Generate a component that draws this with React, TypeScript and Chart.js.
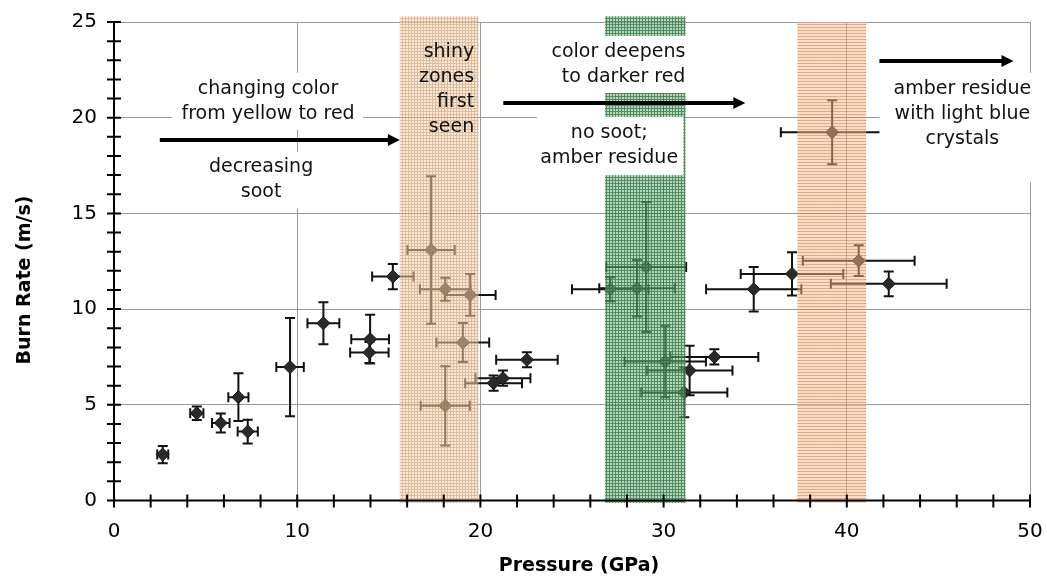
import React, { useEffect, useRef } from 'react';
import { Chart, registerables } from 'chart.js';

Chart.register(...registerables);

// ---- data ----
const pressure = [2.66, 4.52, 5.83, 6.79, 7.3, 9.61, 11.43, 13.98, 13.94, 15.22, 17.31, 18.08, 19.44, 19.04, 18.08, 22.54, 21.23, 20.72, 27.09, 28.55, 29.05, 30.09, 31.13, 31.42, 32.77, 34.92, 37.01, 40.65, 42.29, 39.2];
const burnRate = [2.4, 4.56, 4.05, 5.4, 3.6, 6.97, 9.26, 8.43, 7.73, 11.7, 13.09, 11.04, 10.74, 8.25, 4.95, 7.35, 6.39, 6.13, 11.04, 11.09, 12.2, 7.26, 5.64, 6.79, 7.5, 11.04, 11.84, 12.53, 11.32, 19.24];
const pressureErr = [0.3, 0.36, 0.48, 0.55, 0.55, 0.75, 0.87, 1.03, 1.05, 1.13, 1.29, 1.38, 1.39, 1.44, 1.34, 1.68, 1.5, 1.55, 2.09, 2.06, 2.18, 2.22, 2.35, 2.34, 2.4, 2.6, 2.8, 3.05, 3.16, 2.8];
const burnRateErr = [0.45, 0.35, 0.5, 1.25, 0.62, 2.57, 1.1, 1.27, 0.55, 0.66, 3.85, 0.6, 1.09, 1.02, 2.07, 0.39, 0.4, 0.4, 0.63, 1.48, 3.4, 1.87, 1.29, 1.29, 0.4, 1.16, 1.13, 0.8, 0.65, 1.67];

// shaded pressure zones [from, to]
const zoneStart = [15.6, 26.8, 37.3];
const zoneEnd = [19.9, 31.2, 41.05];

const xTitle = 'Pressure (GPa)';
const yTitle = 'Burn Rate (m/s)';

const FONT = 'DejaVu Sans';

function makePattern(ctx: CanvasRenderingContext2D, cell: string, line: string, horizOnly: boolean) {
  const c = document.createElement('canvas');
  c.width = 3;
  c.height = 3;
  const g = c.getContext('2d')!;
  g.fillStyle = cell;
  g.fillRect(0, 0, 3, 3);
  g.fillStyle = line;
  g.fillRect(0, 0, 3, 1);
  if (!horizOnly) g.fillRect(0, 1, 1, 2);
  return ctx.createPattern(c, 'repeat')!;
}

function arrow(ctx: CanvasRenderingContext2D, x0: number, x1: number, yy: number) {
  ctx.save();
  ctx.strokeStyle = '#000';
  ctx.fillStyle = '#000';
  ctx.lineWidth = 4;
  ctx.beginPath();
  ctx.moveTo(x0, yy);
  ctx.lineTo(x1 - 8, yy);
  ctx.stroke();
  ctx.beginPath();
  ctx.moveTo(x1, yy);
  ctx.lineTo(x1 - 12, yy - 6);
  ctx.lineTo(x1 - 12, yy + 6);
  ctx.closePath();
  ctx.fill();
  ctx.restore();
}

const decor = {
  id: 'decor',
  beforeDatasetsDraw(chart: any) {
    const { ctx, scales } = chart;
    const x = scales.x;
    const y = scales.y;
    ctx.save();
    ctx.strokeStyle = '#111';
    ctx.lineWidth = 2;
    const cap = 5;
    for (let i = 0; i < pressure.length; i++) {
      const px = x.getPixelForValue(pressure[i]);
      const py = y.getPixelForValue(burnRate[i]);
      const xl = x.getPixelForValue(pressure[i] - pressureErr[i]);
      const xr = x.getPixelForValue(pressure[i] + pressureErr[i]);
      const yt = y.getPixelForValue(burnRate[i] + burnRateErr[i]);
      const yb = y.getPixelForValue(burnRate[i] - burnRateErr[i]);
      ctx.beginPath();
      ctx.moveTo(xl, py); ctx.lineTo(xr, py);
      ctx.moveTo(xl, py - cap); ctx.lineTo(xl, py + cap);
      ctx.moveTo(xr, py - cap); ctx.lineTo(xr, py + cap);
      ctx.moveTo(px, yt); ctx.lineTo(px, yb);
      ctx.moveTo(px - cap, yt); ctx.lineTo(px + cap, yt);
      ctx.moveTo(px - cap, yb); ctx.lineTo(px + cap, yb);
      ctx.stroke();
    }
    ctx.restore();
  },
  afterDatasetsDraw(chart: any) {
    const { ctx, scales } = chart;
    const x = scales.x;
    const y = scales.y;
    const X = (v: number) => x.getPixelForValue(v);
    const Y = (v: number) => y.getPixelForValue(v);

    // shaded zones
    const pats = [
      makePattern(ctx, 'rgba(250,212,175,0.55)', 'rgba(160,115,75,0.38)', false),
      makePattern(ctx, 'rgba(130,188,138,0.6)', 'rgba(30,100,50,0.65)', false),
      makePattern(ctx, 'rgba(246,185,140,0.5)', 'rgba(175,105,55,0.42)', true),
    ];
    const tops = [25.3, 25.3, 25];
    ctx.save();
    for (let i = 0; i < zoneStart.length; i++) {
      const l = X(zoneStart[i]);
      const r = X(zoneEnd[i]);
      const t = Y(tops[i]);
      const b = Y(-0.13);
      ctx.fillStyle = pats[i];
      ctx.fillRect(l, t, r - l, b - t);
    }
    ctx.restore();

    // axes lines and crossing tick marks
    const x0 = X(0), x50 = X(50), y0 = Y(0), y25 = Y(25);
    ctx.save();
    ctx.strokeStyle = '#000';
    ctx.lineWidth = 2;
    ctx.beginPath();
    ctx.moveTo(x0, y25 - 1); ctx.lineTo(x0, y0);
    ctx.moveTo(x0, y0); ctx.lineTo(x50 + 1, y0);
    for (let v = 0; v <= 25; v += 1) {
      const p = Y(v);
      ctx.moveTo(x0 - 7, p); ctx.lineTo(x0 + 7, p);
    }
    for (let v = 0; v <= 50; v += 2) {
      const p = X(v);
      ctx.moveTo(p, y0 - 6); ctx.lineTo(p, y0 + 7);
    }
    ctx.stroke();
    ctx.restore();

    // white label boxes
    const boxes = [
      [3.17, 13.6, 22.34, 19.36],
      [5.6, 10.5, 18.2, 15.27],
      [23.5, 31.3, 24.27, 21.29],
      [23.1, 31.08, 20.04, 17.0],
      [41.78, 50.9, 22.34, 16.64],
    ];
    ctx.save();
    ctx.fillStyle = '#fff';
    for (const [a, b, c, d] of boxes) {
      ctx.fillRect(X(a), Y(c), X(b) - X(a), Y(d) - Y(c));
    }
    ctx.restore();

    // arrows
    arrow(ctx, X(2.5), X(15.6), Y(18.83));
    arrow(ctx, X(21.25), X(34.46), Y(20.77));
    arrow(ctx, X(41.78), X(49.1), Y(22.96));

    // annotation text
    ctx.save();
    ctx.fillStyle = '#111';
    ctx.font = `19px "${FONT}"`;
    ctx.textBaseline = 'middle';
    const lh = 25;
    const block = (lines: string[], ax: number, ay: number, align: CanvasTextAlign) => {
      ctx.textAlign = align;
      lines.forEach((s, k) => ctx.fillText(s, X(ax), Y(ay) + k * lh));
    };
    block(['changing color', 'from yellow to red'], 8.41, 21.5, 'center');
    block(['decreasing', 'soot'], 8.03, 17.42, 'center');
    block(['shiny', 'zones', 'first', 'seen'], 19.66, 23.43, 'right');
    block(['color deepens', 'to darker red'], 31.19, 23.43, 'right');
    block(['no soot;', 'amber residue'], 27.03, 19.2, 'center');
    block(['amber residue', 'with light blue', 'crystals'], 46.31, 21.5, 'center');
    ctx.restore();

    // axis titles
    ctx.save();
    ctx.fillStyle = '#000';
    ctx.font = `bold 19px "${FONT}"`;
    ctx.textAlign = 'center';
    ctx.textBaseline = 'middle';
    ctx.fillText(xTitle, 579, 566);
    ctx.translate(25, 280);
    ctx.rotate(-Math.PI / 2);
    ctx.fillText(yTitle, 0, 0);
    ctx.restore();
  },
};

export default function App() {
  const ref = useRef<HTMLCanvasElement>(null);
  useEffect(() => {
    const canvas = ref.current!;
    const chart = new Chart(canvas, {
      type: 'scatter',
      data: {
        datasets: [
          {
            data: pressure.map((p, i) => ({ x: p, y: burnRate[i] })),
            pointStyle: 'rectRot',
            pointRadius: 6.5,
            backgroundColor: '#2a2a2a',
            borderColor: '#151515',
            borderWidth: 1,
          },
        ],
      },
      options: {
        animation: false,
        responsive: false,
        devicePixelRatio: 1,
        layout: { padding: { left: 0, top: 22, right: 17, bottom: 0 } },
        plugins: { legend: { display: false }, tooltip: { enabled: false } },
        scales: {
          x: {
            type: 'linear',
            min: 0,
            max: 50,
            ticks: { stepSize: 10, font: { family: FONT, size: 20 }, color: '#000', padding: 19 },
            grid: {
              drawTicks: false,
              color: (c: any) => (c.tick && c.tick.value === 0 ? 'rgba(0,0,0,0)' : '#9a9a9a'),
              lineWidth: 1,
            },
            border: { display: false },
            afterFit: (s: any) => {
              s.height = 85.5;
              s.paddingLeft = 0;
              s.paddingRight = 0;
            },
          },
          y: {
            type: 'linear',
            min: 0,
            max: 25,
            ticks: { stepSize: 5, font: { family: FONT, size: 20 }, color: '#000', padding: 17 },
            grid: {
              drawTicks: false,
              color: (c: any) => (c.tick && c.tick.value === 0 ? 'rgba(0,0,0,0)' : '#9a9a9a'),
              lineWidth: 1,
            },
            border: { display: false },
            afterFit: (s: any) => {
              s.width = 114;
              s.paddingTop = 0;
              s.paddingBottom = 0;
            },
          },
        },
      },
      plugins: [decor],
    } as any);
    return () => chart.destroy();
  }, []);
  return (
    <div style={{ position: 'absolute', left: 0, top: 0, width: 1047, height: 586, background: '#fff' }}>
      <canvas ref={ref} width={1047} height={586} style={{ display: 'block' }} />
    </div>
  );
}
